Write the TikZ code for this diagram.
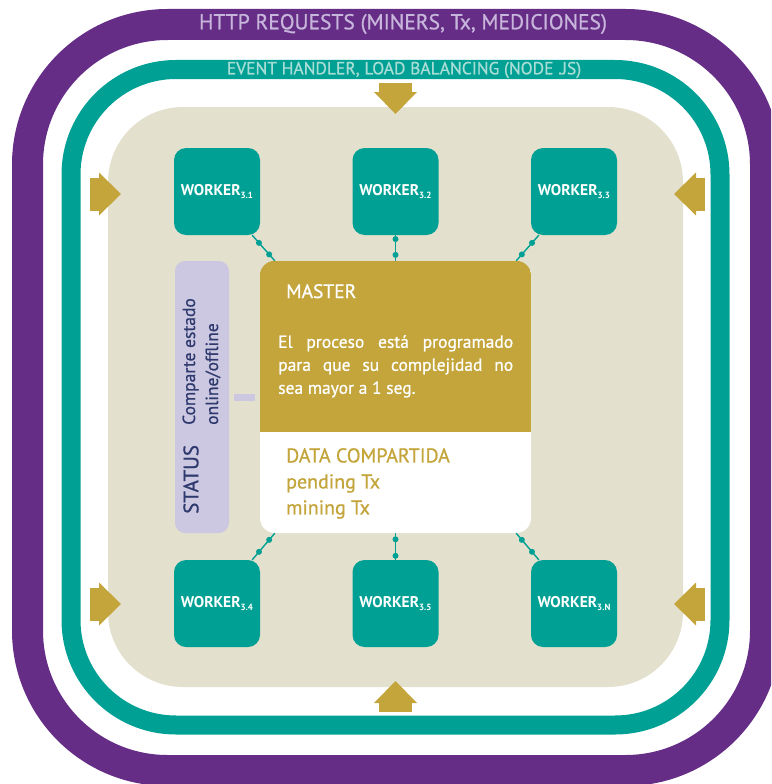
\documentclass[tikz,border=0pt]{standalone}
\usepackage{fontspec}
\setmainfont{PT Sans}
\newfontfamily\medfont{PT Sans}[FakeBold=0.8]
\usetikzlibrary{calc}
\definecolor{ringpurple}{HTML}{662D87}
\definecolor{ringteal}{HTML}{00A194}
\definecolor{beige}{HTML}{E3E0CD}
\definecolor{gold}{HTML}{C4A53B}
\definecolor{lavender}{HTML}{CCC8E2}
\definecolor{navy}{HTML}{2E3A6E}
\definecolor{httptext}{HTML}{C7B5DB}
\definecolor{eventtext}{HTML}{A9DDD6}
\newcommand{\wsub}[1]{\raisebox{-0.5ex}{\fontsize{9}{9}\selectfont #1}}
\newcommand{\fsz}[1]{\fontsize{#1}{#1}\selectfont}
\tikzset{
  worker/.style={rectangle, rounded corners=12pt, fill=ringteal, text=white,
    minimum width=86pt, minimum height=87pt, inner sep=0pt, font=\fsz{15.5}\bfseries},
  link/.style={draw=ringteal, line width=1.4pt},
  dot/.style={circle, fill=ringteal, inner sep=0pt, minimum size=6pt},
  inarrow/.pic={
    \fill[gold] (-16.5,0) rectangle (16.5,9);
    \fill[gold] (-21.5,9) -- (21.5,9) -- (0,31) -- cycle;
  }
}
\begin{document}
\begin{tikzpicture}[x=1pt, y=-1pt]
\useasboundingbox (0,0) rectangle (771,784);
\clip (0,0) rectangle (771,784);
% rings
\draw[ringpurple, line width=31pt, rounded corners=140pt] (27.5,24.5) rectangle (765.5,770.5);
\draw[ringteal, line width=19pt, rounded corners=105pt] (71,69.5) rectangle (720,725);
\fill[beige, rounded corners=75pt] (108,107) rectangle (683,687);
\node[httptext, font=\fsz{21.5}\medfont] (http) at (403,24) {HTTP REQUESTS (MINERS, Tx, MEDICIONES)};
\node[eventtext, font=\fsz{17.5}\medfont] (event) at (404,70) {EVENT HANDLER, LOAD BALANCING (NODE .JS)};
% arrows
\pic at (395.5,83) {inarrow};
\pic[rotate=180] at (395.5,712) {inarrow};
\pic[rotate=90] at (90,194) {inarrow};
\pic[rotate=90] at (90,604) {inarrow};
\pic[rotate=-90] at (705,194) {inarrow};
\pic[rotate=-90] at (705,604) {inarrow};
% workers
\node[worker] (w31) at (217,191.5) {WORKER\wsub{3.1}};
\node[worker] (w32) at (395.5,191.5) {WORKER\wsub{3.2}};
\node[worker] (w33) at (574,191.5) {WORKER\wsub{3.3}};
\node[worker] (w34) at (217,603.5) {WORKER\wsub{3.4}};
\node[worker] (w35) at (395.5,603.5) {WORKER\wsub{3.5}};
\node[worker] (w3n) at (574,603.5) {WORKER\wsub{3.N}};
% master
\node[rectangle, rounded corners=15pt, fill=white, minimum width=271pt, minimum height=272pt] (master) at (395.5,397) {};
\begin{scope}
  \clip[rounded corners=15pt] (master.north west) rectangle (master.south east);
  \fill[gold] (master.north west) rectangle ($(master.north east)+(0,171)$);
\end{scope}
\node[white, anchor=base west, inner sep=0pt, font=\fsz{19.5}\medfont] (mastertitle) at (286,298) {MASTER};
\node[white, anchor=north west, text width=235pt, align=justify, inner sep=0pt,
  font=\fontsize{17.5}{23}\selectfont\medfont] (masterbody) at (278,335)
  {El proceso está programado\linebreak para que su complejidad no\linebreak sea mayor a 1 seg.};
\node[gold, anchor=north west, align=left, inner sep=0pt,
  font=\fontsize{20}{26}\selectfont\medfont] (data) at (286,448)
  {DATA COMPARTIDA\\pending Tx\\mining Tx};
% status
\node[rectangle, rounded corners=10pt, fill=lavender, minimum width=54pt, minimum height=272pt] (status) at (202,397) {};
\node[navy, rotate=90, anchor=west, inner sep=0pt, font=\fsz{21}\medfont] (statuslabel) at (191,514) {STATUS};
\node[navy, rotate=90, anchor=west, align=left, inner sep=0pt, font=\fontsize{17.5}{23}\selectfont\medfont] (statustext) at (201.5,425) {Comparte estado\\online/offline};
\draw[lavender, line width=7pt, shorten <=5pt, shorten >=5pt] (status.east) -- (master.west);
% links
\draw[link] ([xshift=-8pt]w31.south east) -- ([xshift=15pt]master.north west)
  node[dot, pos=0.3] {} node[dot, pos=0.75] {};
\draw[link] (w32.south) -- (master.north)
  node[dot, pos=0.15] {} node[dot, pos=0.77] {};
\draw[link] ([xshift=8pt]w33.south west) -- ([xshift=-15pt]master.north east)
  node[dot, pos=0.3] {} node[dot, pos=0.75] {};
\draw[link] ([xshift=-8pt]w34.north east) -- ([xshift=15pt]master.south west)
  node[dot, pos=0.3] {} node[dot, pos=0.75] {};
\draw[link] (w35.north) -- (master.south)
  node[dot, pos=0.15] {} node[dot, pos=0.77] {};
\draw[link] ([xshift=8pt]w3n.north west) -- ([xshift=-15pt]master.south east)
  node[dot, pos=0.3] {} node[dot, pos=0.75] {};
\end{tikzpicture}
\end{document}
